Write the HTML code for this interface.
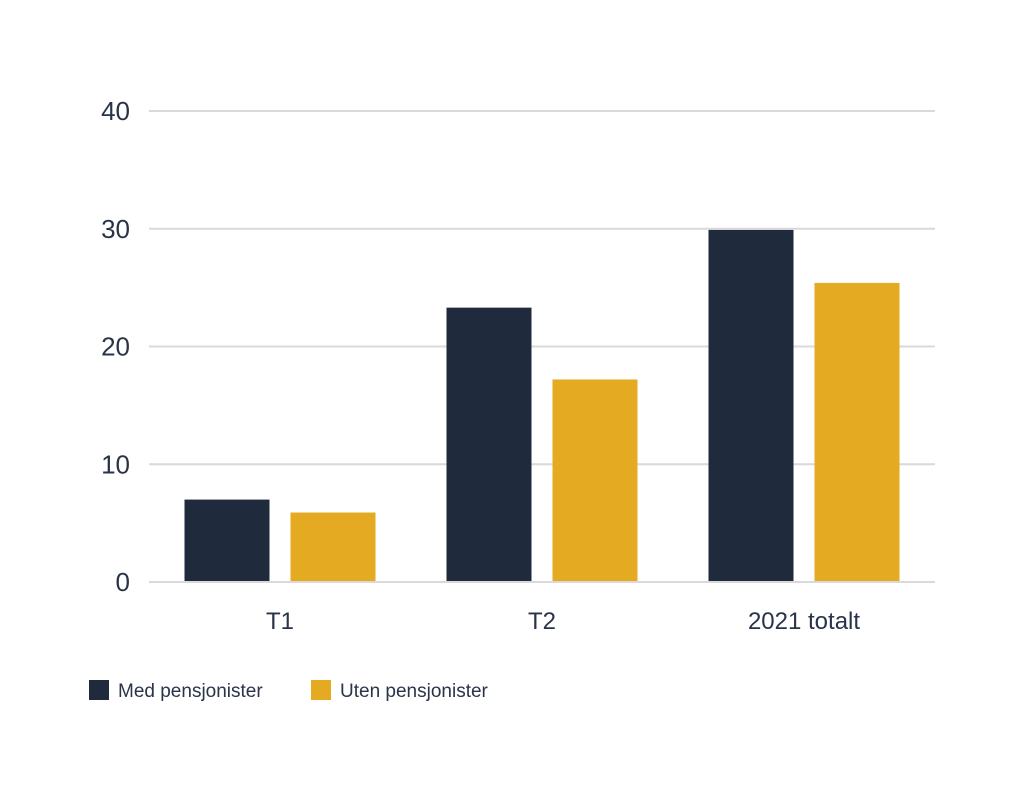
<!DOCTYPE html>
<html><head><meta charset="utf-8"><style>
body{margin:0;background:#fff;font-family:"Liberation Sans",sans-serif}
svg{display:block}
</style></head><body>
<svg id="chart" width="1024" height="790"></svg>
<script>
const categories=["T1","T2","2021 totalt"];
const medValues=[7.0,23.3,29.9];
const utenValues=[5.9,17.2,25.4];
const yTicks=[0,10,20,30,40];
const seriesNames=["Med pensjonister","Uten pensjonister"];
const colors=["#1f2b3c","#e4aa22"];
const ns="http://www.w3.org/2000/svg";
const svg=document.getElementById("chart");
const x0=149,x1=935,yBase=582,yTop=111,yMax=40;
const y=v=>yBase-(v/yMax)*(yBase-yTop);
const band=(x1-x0)/categories.length;
function mk(tag,attrs,name,text){const e=document.createElementNS(ns,tag);for(const k in attrs)e.setAttribute(k,attrs[k]);


if(text!==undefined)e.textContent=text;svg.appendChild(e);return e;}
yTicks.forEach(t=>{
mk("line",{x1:x0,x2:x1,y1:y(t),y2:y(t),stroke:"#d9d9d9","stroke-width":2},"gridline-"+t);
mk("text",{x:130,y:y(t)+9,"text-anchor":"end","font-size":26,fill:"#2a3448"},"y-tick-label-"+t,String(t));
});
const bw=85,gap=21;
categories.forEach((c,i)=>{
const cx=x0+band*(i+0.5);
[medValues,utenValues].forEach((arr,s)=>{
const bx=s===0?cx-gap/2-bw:cx+gap/2;
mk("rect",{x:bx,y:y(arr[i]),width:bw,height:yBase-y(arr[i]),fill:colors[s]},"bar-"+(s===0?"med":"uten")+"-"+i);
});
mk("text",{x:cx,y:629,"text-anchor":"middle","font-size":24,fill:"#2a3448"},"x-tick-label-"+i,c);
});
mk("line",{x1:x0,x2:x1,y1:yBase,y2:yBase,stroke:"#d9d9d9","stroke-width":2},"x-axis-line");
const lx=[89,311];
seriesNames.forEach((n,s)=>{
mk("rect",{x:lx[s],y:680,width:20,height:20,fill:colors[s]},"legend-swatch-"+s);
mk("text",{x:lx[s]+29,y:697,"font-size":19,fill:"#2a3448"},"legend-entry-"+s,n);
});
</script>
</body></html>
